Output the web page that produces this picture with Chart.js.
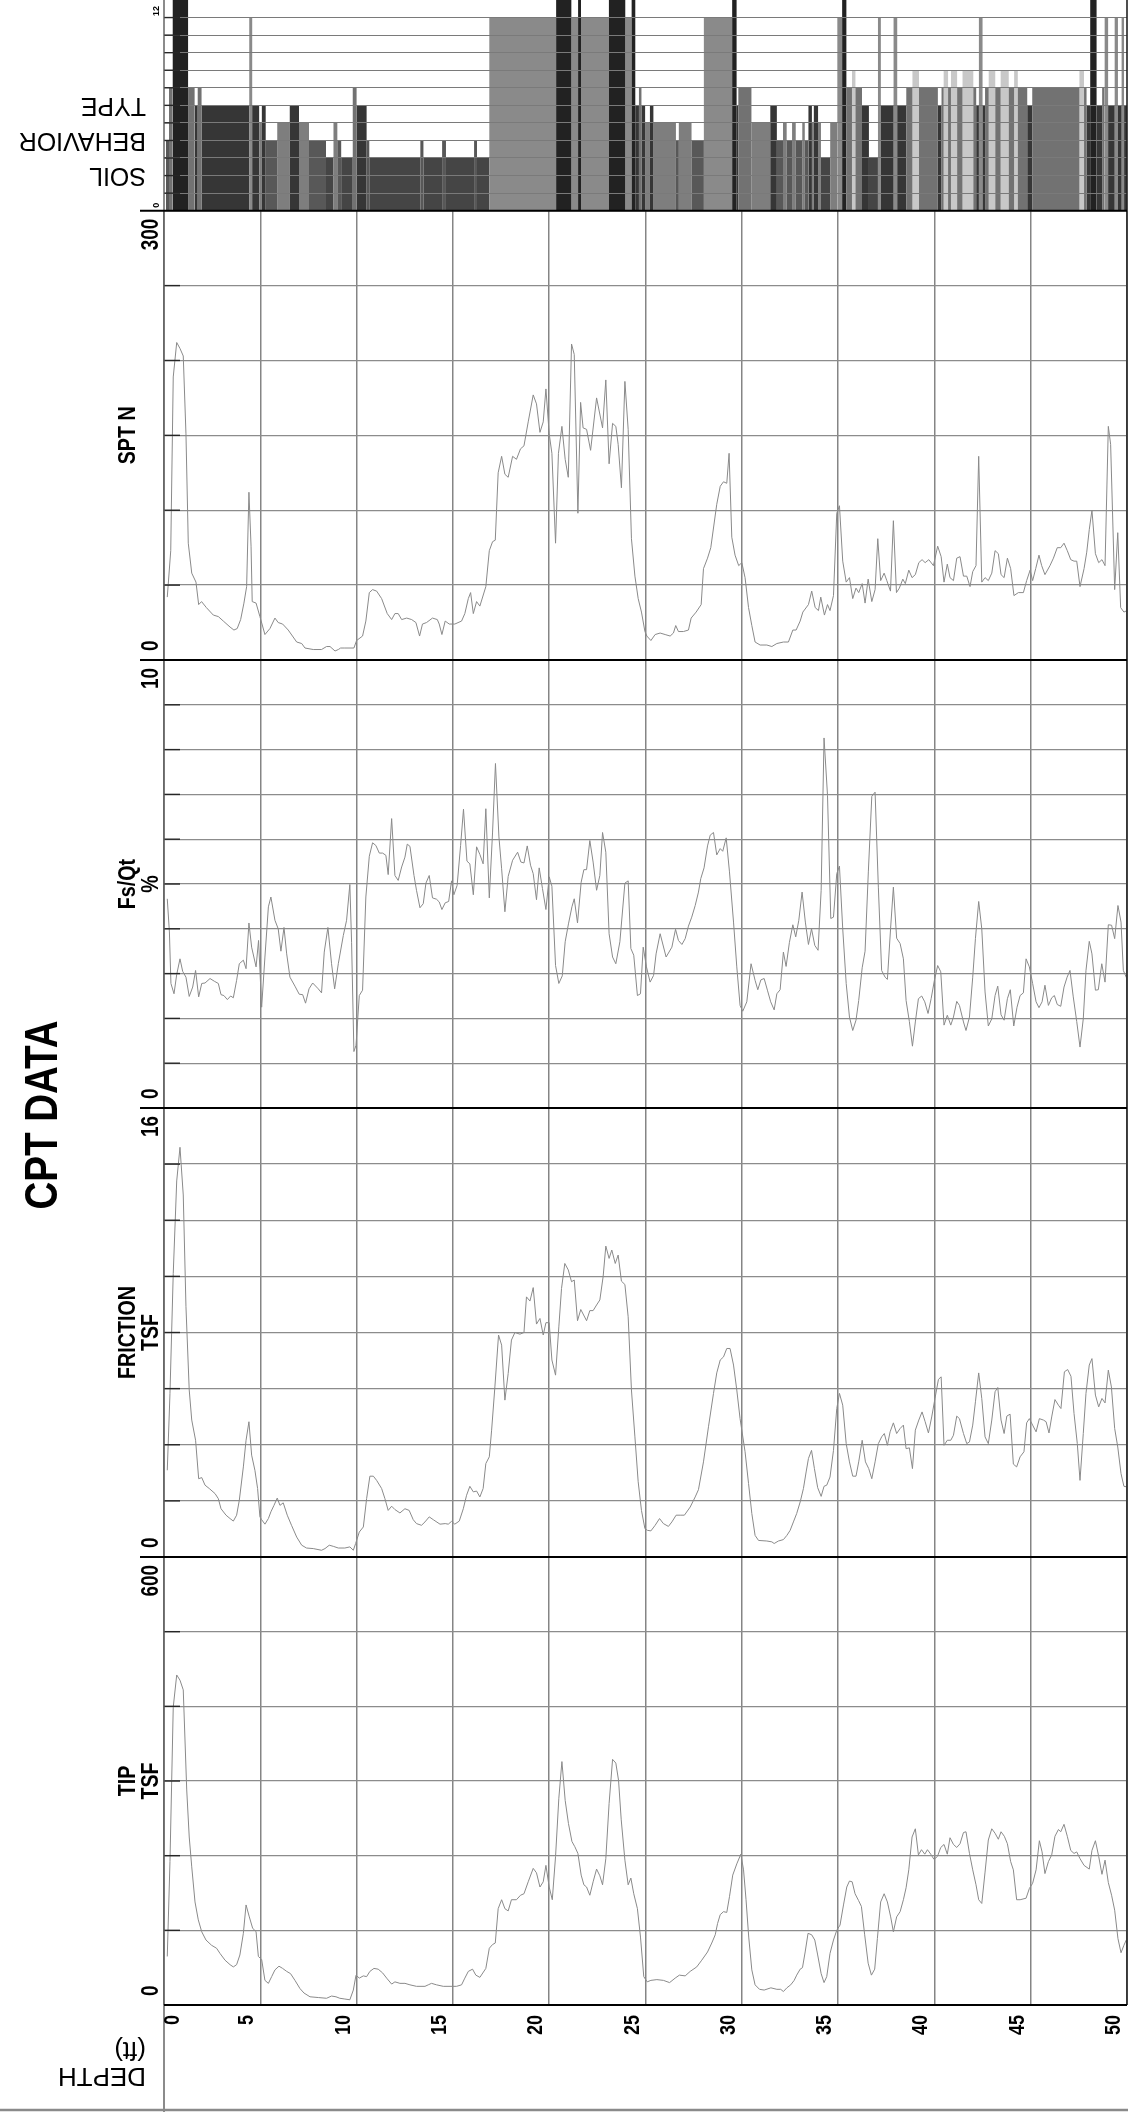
<!DOCTYPE html>
<html>
<head>
<meta charset="utf-8">
<title>CPT DATA</title>
<script src="https://cdn.jsdelivr.net/npm/chart.js@4.4.1/dist/chart.umd.min.js"></script>
<style>
html,body{margin:0;padding:0;background:#fff}
canvas{display:block}
</style>
</head>
<body>
<canvas id="cpt" width="1128" height="2112"></canvas>
<script>
// depth axis (ft)
const depthTicks=[0,5,10,15,20,25,30,35,40,45,50];

// soil behavior type: zone between consecutive depth edges
const sbtEdge=[0.10,0.26,0.44,1.25,1.59,1.75,1.95,4.42,4.58,4.94,5.08,5.28,5.88,6.53,7.01,7.53,8.41,8.80,9.00,9.20,9.80,10.00,10.52,10.66,13.31,13.47,14.44,14.64,16.10,16.25,16.89,20.36,21.15,21.50,21.65,23.10,23.95,24.28,24.47,24.66,24.79,24.98,25.23,25.41,26.58,26.73,27.39,28.03,29.50,29.73,29.82,30.50,31.48,31.82,32.14,32.33,32.61,32.80,33.14,33.27,33.46,33.64,33.74,33.96,34.11,34.59,34.96,35.21,35.43,35.72,35.90,36.24,36.60,37.07,37.22,37.88,38.07,38.54,38.86,39.20,40.18,40.37,40.48,40.71,40.86,41.18,41.46,42.02,42.17,42.31,42.50,42.63,42.82,43.16,43.44,43.86,44.14,44.33,44.82,45.08,47.53,47.77,47.90,48.09,48.43,48.71,48.84,49.02,49.36,49.53,49.72,49.85,50.00];
const sbtZone=[4,7,12,7,6,7,6,11,6,5,6,4,5,6,5,4,3,5,4,3,7,6,4,3,4,3,4,3,4,3,11,12,11,12,11,12,11,12,6,7,6,5,6,5,4,5,4,11,12,6,7,5,6,4,5,4,5,4,5,4,6,5,6,5,3,5,11,12,7,8,7,6,3,11,6,11,6,7,8,7,6,7,8,7,8,7,8,7,6,11,6,7,8,7,8,7,8,7,6,7,8,7,6,12,6,7,11,6,11,6,11,6];

// SPT N
const sptDepth=[0.17,0.35,0.48,0.66,0.83,1.0,1.14,1.26,1.44,1.66,1.8,1.95,2.2,2.56,2.82,3.08,3.43,3.63,3.8,3.98,4.15,4.29,4.41,4.52,4.58,4.78,4.98,5.24,5.5,5.76,5.93,6.16,6.45,6.89,7.15,7.32,7.75,8.18,8.44,8.62,8.88,9.05,9.17,9.39,9.86,10.0,10.31,10.48,10.66,10.83,11.04,11.3,11.59,11.82,11.99,12.16,12.34,12.6,12.86,13.08,13.27,13.42,13.63,13.94,14.19,14.29,14.43,14.6,14.81,15.1,15.45,15.62,15.8,15.92,16.06,16.23,16.4,16.71,16.89,17.06,17.2,17.35,17.53,17.7,17.87,18.1,18.3,18.51,18.69,18.91,19.17,19.34,19.52,19.69,19.83,20.0,20.14,20.33,20.48,20.66,20.83,20.99,21.16,21.3,21.49,21.63,21.76,21.94,22.15,22.46,22.77,22.94,23.11,23.29,23.46,23.58,23.75,23.93,24.1,24.27,24.45,24.62,24.79,24.97,25.07,25.28,25.5,25.76,26.02,26.28,26.45,26.57,26.71,26.97,27.23,27.37,27.63,27.89,28.01,28.22,28.39,28.7,28.88,29.05,29.22,29.34,29.48,29.65,29.84,30.0,30.17,30.35,30.52,30.69,30.95,31.3,31.56,31.82,32.16,32.42,32.65,32.82,33.03,33.17,33.46,33.63,33.81,33.98,34.1,34.29,34.45,34.58,34.76,34.93,35.07,35.24,35.42,35.59,35.76,35.93,36.07,36.25,36.4,36.56,36.75,36.92,37.06,37.21,37.39,37.53,37.72,37.87,38.03,38.18,38.36,38.49,38.67,38.84,39.01,39.19,39.36,39.52,39.71,39.95,40.17,40.35,40.5,40.67,40.81,40.99,41.16,41.33,41.51,41.68,41.85,41.99,42.16,42.3,42.46,42.63,42.8,42.98,43.15,43.32,43.46,43.62,43.79,43.96,44.13,44.36,44.62,44.79,44.97,45.1,45.26,45.43,45.57,45.74,46.0,46.18,46.38,46.56,46.73,46.9,47.08,47.25,47.39,47.56,47.77,47.91,48.04,48.18,48.36,48.53,48.7,48.86,49.03,49.15,49.36,49.52,49.67,49.84,50.0];
const sptN=[42,73,189,212,208,203,151,78,58,52,37,39,35,30,29,26,22,20,21,27,38,49,112,76,39,38,29,17,21,28,25,24,20,12,11,8,7,7,9,9,6,7,8,8,8,13,16,26,45,47,46,41,31,27,31,31,27,28,27,25,16,24,25,28,27,24,17,26,24,24,26,31,41,45,31,39,36,49,73,79,80,125,136,124,122,136,134,141,143,159,177,171,152,159,181,151,138,78,138,156,134,122,211,204,98,172,155,154,140,175,155,187,131,158,156,144,115,186,154,81,56,41,32,19,16,13,17,18,17,16,18,23,19,19,20,28,32,37,61,68,75,104,116,119,118,138,82,70,63,65,55,35,23,12,10,10,9,11,12,12,20,20,26,32,37,46,35,33,42,30,37,33,43,98,103,66,52,55,41,48,45,51,38,54,39,47,81,53,58,53,46,93,45,48,54,51,60,55,57,65,67,65,67,63,76,69,52,64,55,53,68,69,56,56,49,59,63,136,52,55,53,58,73,71,57,55,68,61,43,45,45,53,60,53,61,70,63,57,63,68,75,75,78,73,67,66,66,49,61,72,87,100,71,65,67,63,156,144,47,85,35,32,33];

// Fs/Qt %
const fsDepth=[0.17,0.28,0.36,0.52,0.66,0.83,0.97,1.14,1.31,1.49,1.64,1.8,1.96,2.13,2.39,2.61,2.82,2.96,3.11,3.29,3.46,3.6,3.77,3.91,4.12,4.26,4.41,4.55,4.78,4.91,5.07,5.24,5.42,5.55,5.76,5.93,6.07,6.23,6.37,6.54,6.8,7.02,7.2,7.35,7.53,7.72,8.01,8.18,8.32,8.51,8.7,8.86,9.05,9.31,9.48,9.65,9.74,9.86,9.97,10.14,10.31,10.48,10.66,10.83,11.0,11.18,11.35,11.52,11.64,11.82,11.99,12.16,12.34,12.51,12.63,12.77,12.98,13.11,13.29,13.46,13.6,13.77,13.94,14.15,14.29,14.43,14.6,14.78,14.93,15.05,15.22,15.4,15.55,15.73,15.88,16.06,16.23,16.4,16.57,16.71,16.89,17.06,17.21,17.39,17.53,17.7,17.87,18.1,18.36,18.53,18.69,18.86,19.03,19.17,19.34,19.48,19.65,19.83,20.0,20.14,20.33,20.5,20.68,20.83,21.0,21.18,21.3,21.47,21.66,21.8,21.94,22.11,22.28,22.46,22.63,22.77,22.94,23.11,23.29,23.46,23.67,23.93,24.1,24.24,24.39,24.58,24.74,24.88,25.05,25.24,25.42,25.55,25.76,26.07,26.37,26.56,26.71,26.89,27.06,27.23,27.4,27.58,27.75,27.87,28.04,28.22,28.36,28.53,28.7,28.88,29.01,29.19,29.36,29.57,29.74,29.91,30.05,30.26,30.48,30.69,30.83,30.99,31.16,31.33,31.5,31.68,31.82,31.99,32.16,32.3,32.47,32.65,32.8,32.96,33.13,33.3,33.46,33.62,33.79,33.96,34.12,34.27,34.45,34.62,34.76,34.93,35.07,35.24,35.42,35.59,35.76,35.93,36.07,36.25,36.4,36.57,36.75,36.92,37.09,37.26,37.44,37.56,37.73,37.87,38.04,38.22,38.39,38.53,38.7,38.86,39.01,39.17,39.34,39.5,39.67,39.83,40.0,40.17,40.33,40.5,40.67,40.85,40.99,41.16,41.3,41.51,41.64,41.82,41.99,42.13,42.3,42.46,42.63,42.8,42.98,43.15,43.29,43.46,43.62,43.79,43.94,44.12,44.29,44.45,44.62,44.76,44.93,45.1,45.28,45.43,45.59,45.74,45.92,46.09,46.23,46.38,46.56,46.73,46.89,47.04,47.21,47.39,47.56,47.73,47.87,48.04,48.18,48.36,48.51,48.69,48.86,49.03,49.2,49.36,49.53,49.69,49.81,49.98];
const fsQt=[4.67,3.93,2.78,2.55,2.98,3.33,3.05,2.92,2.49,2.70,3.07,2.48,2.78,2.79,2.89,2.83,2.78,2.53,2.51,2.42,2.5,2.46,2.85,3.22,3.3,3.11,4.13,3.59,3.15,3.74,2.25,3.37,4.49,4.71,4.19,4.0,3.5,4.03,3.44,2.92,2.72,2.54,2.53,2.34,2.66,2.79,2.66,2.57,3.48,4.03,3.22,2.66,3.22,3.85,4.19,4.99,3.7,1.26,1.4,2.51,2.63,4.71,5.62,5.92,5.86,5.69,5.69,5.64,5.21,6.46,5.19,5.08,5.38,5.6,5.89,5.84,5.19,4.86,4.47,4.56,5.02,5.19,4.69,4.66,4.6,4.43,4.58,4.61,5.07,4.76,4.97,5.86,6.67,5.51,5.45,4.76,5.83,5.66,5.45,6.68,4.69,6.16,7.69,6.05,5.34,4.38,5.17,5.53,5.71,5.49,5.47,5.85,5.42,5.23,4.65,5.36,4.9,4.43,5.16,4.95,3.18,2.78,2.95,3.71,4.11,4.49,4.67,4.13,5.04,5.32,5.32,5.97,5.49,4.86,5.19,6.15,5.71,3.89,3.37,3.22,3.71,5.02,5.07,3.56,3.41,2.51,2.55,3.59,3.15,2.81,2.96,3.44,3.89,3.37,3.59,3.99,3.74,3.65,3.78,4.06,4.26,4.52,4.82,5.12,5.36,5.85,6.09,6.15,5.65,5.79,5.73,6.03,5.27,4.15,3.15,2.29,2.16,2.37,3.22,2.85,2.64,2.86,2.89,2.63,2.37,2.19,2.55,2.64,3.48,3.16,3.69,4.09,3.82,4.19,4.82,4.15,3.65,4.0,3.63,3.52,4.86,8.26,6.98,4.23,4.26,5.23,5.4,4.0,2.78,2.03,1.73,1.96,2.4,3.13,3.5,5.27,6.96,7.05,4.93,3.07,2.92,2.87,4.04,4.93,3.79,3.67,3.33,2.4,1.93,1.38,1.92,2.44,2.5,2.37,2.11,2.44,2.85,3.18,3.04,1.85,2.07,1.85,2.03,2.38,2.29,1.92,1.73,2.03,2.92,3.78,4.61,4.0,2.59,1.83,1.99,2.51,2.72,2.08,1.96,2.44,2.64,1.83,2.25,2.51,2.57,3.33,3.15,2.78,2.37,2.24,2.37,2.74,2.29,2.46,2.51,2.31,2.27,2.7,2.92,3.07,2.48,1.93,1.36,1.99,3.07,3.72,3.44,2.63,2.64,3.22,2.81,4.09,4.08,3.78,4.52,4.15,3.07,2.9];

// friction TSF
const frDepth=[0.17,0.31,0.48,0.66,0.83,1.0,1.14,1.31,1.44,1.64,1.8,1.96,2.13,2.35,2.65,2.82,2.96,3.22,3.43,3.6,3.77,3.91,4.12,4.26,4.41,4.55,4.72,4.86,4.98,5.07,5.24,5.42,5.55,5.71,5.88,6.02,6.19,6.4,6.62,6.89,7.15,7.4,7.75,8.18,8.36,8.58,8.79,9.05,9.39,9.65,9.83,9.95,10.14,10.35,10.52,10.69,10.87,11.04,11.3,11.47,11.64,11.82,11.99,12.25,12.51,12.73,12.94,13.11,13.37,13.55,13.77,13.98,14.33,14.6,14.76,14.93,15.1,15.33,15.54,15.71,15.88,16.06,16.23,16.4,16.57,16.71,16.89,17.01,17.18,17.37,17.53,17.7,17.87,18.04,18.22,18.48,18.69,18.82,19.0,19.17,19.34,19.52,19.69,19.83,20.0,20.14,20.33,20.5,20.64,20.81,20.99,21.16,21.3,21.47,21.64,21.94,22.11,22.28,22.46,22.63,22.8,22.94,23.11,23.25,23.43,23.58,23.75,23.93,24.1,24.27,24.45,24.62,24.79,24.97,25.1,25.28,25.5,25.73,25.93,26.19,26.37,26.59,26.8,27.02,27.32,27.58,27.75,28.01,28.27,28.53,28.7,28.88,29.05,29.22,29.39,29.57,29.74,29.91,30.17,30.35,30.52,30.69,30.87,31.3,31.56,31.68,31.9,32.16,32.34,32.51,32.68,32.85,33.03,33.2,33.34,33.46,33.62,33.77,33.94,34.12,34.27,34.41,34.58,34.76,34.93,35.07,35.24,35.42,35.59,35.76,35.93,36.07,36.25,36.42,36.59,36.75,36.92,37.09,37.26,37.4,37.56,37.7,37.87,38.04,38.22,38.39,38.53,38.7,38.86,39.01,39.19,39.36,39.52,39.69,39.86,40.03,40.21,40.35,40.5,40.67,40.85,40.99,41.16,41.3,41.51,41.68,41.82,41.99,42.13,42.3,42.46,42.63,42.8,42.98,43.15,43.29,43.46,43.62,43.76,43.93,44.1,44.27,44.45,44.65,44.79,44.93,45.1,45.28,45.45,45.66,45.8,45.95,46.09,46.26,46.44,46.57,46.75,46.92,47.09,47.25,47.42,47.56,47.73,47.87,48.04,48.18,48.36,48.53,48.7,48.86,49.03,49.19,49.36,49.52,49.69,49.84,49.98];
const frTsf=[3.09,5.83,10.1,13.4,14.6,12.9,8.92,5.95,4.88,4.16,2.79,2.83,2.56,2.44,2.26,2.08,1.72,1.49,1.37,1.28,1.49,2.02,3.21,4.16,4.82,3.63,3.09,2.44,1.43,1.33,1.17,1.37,1.61,1.84,2.1,1.84,1.93,1.49,1.13,0.71,0.42,0.32,0.3,0.24,0.3,0.42,0.38,0.32,0.32,0.36,0.24,0.48,0.89,1.07,2.08,2.88,2.88,2.73,2.44,2.08,1.66,1.81,1.69,1.57,1.72,1.66,1.33,1.19,1.13,1.25,1.43,1.33,1.17,1.19,1.17,1.27,1.17,1.28,1.72,2.2,2.52,2.32,2.35,2.14,2.44,3.33,3.57,4.52,6.06,7.91,7.55,5.59,6.54,7.73,8.0,7.94,8.0,9.27,9.12,9.6,8.3,8.5,7.91,8.35,8.35,7.02,6.48,8.2,9.57,10.46,10.23,9.81,9.87,8.42,8.82,8.42,8.78,8.78,8.98,9.16,9.99,11.08,10.64,10.94,10.46,10.76,9.83,9.71,8.56,5.95,4.28,2.68,1.66,1.01,0.95,0.93,1.13,1.37,1.19,1.09,1.25,1.49,1.49,1.49,1.78,2.14,2.4,3.39,4.64,5.83,6.56,7.02,7.13,7.43,7.43,6.84,5.95,4.93,3.75,2.62,1.55,0.77,0.59,0.57,0.54,0.48,0.57,0.62,0.77,0.95,1.25,1.55,1.96,2.44,3.03,3.51,3.8,3.15,2.47,2.16,2.52,2.56,2.85,3.8,5.29,5.83,5.41,4.04,3.39,2.88,2.88,3.39,4.16,3.39,3.15,2.79,3.39,4.04,4.28,4.4,3.98,4.46,4.78,4.4,4.58,4.7,3.86,3.89,3.15,4.52,4.88,5.17,4.82,4.42,4.99,5.65,6.33,6.42,3.98,4.16,4.16,4.34,5.02,4.93,4.4,4.04,4.1,4.7,5.53,6.56,5.65,4.28,4.04,4.88,5.89,6.04,4.88,4.4,5.02,5.09,3.31,3.21,3.57,3.75,4.78,4.93,4.7,4.46,4.93,4.88,4.82,4.42,4.99,5.61,5.41,5.29,6.6,6.68,6.44,5.11,4.04,2.73,4.4,5.83,6.84,7.07,5.77,5.35,5.65,5.49,6.66,6.06,4.58,3.92,2.97,2.52,2.5];

// tip TSF
const tipDepth=[0.17,0.31,0.48,0.66,0.83,1.0,1.18,1.31,1.44,1.61,1.78,1.96,2.18,2.47,2.73,2.91,3.17,3.43,3.6,3.77,3.94,4.12,4.26,4.43,4.6,4.78,4.9,5.07,5.24,5.42,5.59,5.76,5.97,6.16,6.37,6.57,6.8,7.06,7.27,7.58,8.01,8.44,8.7,8.93,9.13,9.39,9.65,9.83,9.97,10.14,10.35,10.52,10.69,10.9,11.12,11.35,11.56,11.82,11.99,12.25,12.51,12.77,13.11,13.55,13.72,13.89,14.15,14.5,14.85,15.19,15.45,15.62,15.8,16.02,16.19,16.4,16.71,16.89,17.06,17.2,17.35,17.53,17.7,17.87,18.04,18.3,18.51,18.69,18.91,19.17,19.34,19.52,19.69,19.83,20.0,20.16,20.33,20.5,20.66,20.83,21.0,21.18,21.33,21.49,21.66,21.8,21.94,22.11,22.28,22.46,22.63,22.77,22.94,23.11,23.29,23.46,23.6,23.74,23.93,24.1,24.24,24.39,24.58,24.74,24.91,25.09,25.28,25.59,25.93,26.25,26.54,26.76,27.06,27.32,27.66,27.92,28.22,28.44,28.62,28.74,28.88,29.05,29.22,29.36,29.53,29.74,29.95,30.09,30.22,30.36,30.52,30.69,30.92,31.16,31.51,31.82,32.02,32.16,32.34,32.54,32.72,32.85,33.03,33.15,33.29,33.44,33.63,33.79,33.94,34.12,34.27,34.41,34.58,34.76,34.93,35.1,35.28,35.45,35.59,35.73,35.88,36.06,36.21,36.38,36.56,36.73,36.9,37.04,37.21,37.39,37.56,37.73,37.87,38.04,38.22,38.39,38.53,38.67,38.84,39.01,39.17,39.33,39.5,39.64,39.81,39.98,40.16,40.33,40.5,40.67,40.81,40.99,41.16,41.33,41.51,41.64,41.82,41.99,42.16,42.3,42.46,42.63,42.8,42.98,43.15,43.32,43.46,43.63,43.79,43.96,44.1,44.27,44.45,44.76,44.93,45.1,45.28,45.45,45.59,45.74,45.92,46.09,46.26,46.44,46.56,46.73,46.9,47.08,47.25,47.39,47.56,47.77,48.04,48.18,48.36,48.53,48.7,48.86,49.03,49.2,49.36,49.53,49.69,49.84,49.98];
const tipTsf=[65,192,399,442,435,422,288,225,185,138,114,98,87,80,76,69,60,54,51,54,67,96,134,118,103,98,65,61,33,29,38,47,52,49,45,42,33,22,16,11,10,9,12,11,9,8,7,20,40,36,39,38,45,49,48,43,36,28,31,29,29,27,25,25,27,29,27,25,25,25,27,36,45,48,40,37,49,76,81,83,129,141,129,126,141,141,147,149,165,183,177,158,165,187,158,141,199,277,326,274,243,219,212,203,174,161,158,147,165,182,173,161,196,270,329,324,301,248,194,161,170,149,129,91,38,31,33,34,33,30,36,40,39,45,51,60,71,83,94,109,121,125,124,145,174,189,202,181,141,91,47,27,21,20,23,21,21,18,23,27,33,40,48,50,71,96,94,87,67,42,30,38,69,87,100,107,134,158,166,165,149,140,132,94,56,40,48,89,138,149,138,118,98,118,125,141,157,181,225,236,201,208,202,208,202,195,199,211,215,202,224,215,211,216,231,232,203,181,161,141,136,178,221,236,230,222,232,226,216,192,181,141,141,143,156,163,181,220,205,176,192,201,226,235,232,242,226,207,203,205,196,187,182,207,220,199,175,194,164,147,127,89,70,80,88];

// panels, top to bottom below the soil strip
const panelKeys=['ySpt','yFs','yFr','yTip'];
const panelNames=[['SPT N'],['Fs/Qt','%'],['FRICTION','TSF'],['TIP','TSF']];
const panelMax=[300,10,16,600];
const panelStep=[50,1,2,100];

const zoneShade={3:'#454545',4:'#585858',5:'#7e7e7e',6:'#363636',7:'#727272',8:'#c8c8c8',11:'#8a8a8a',12:'#222222'};
const traceColor='#8a8a8a';

function pairs(xs,ys){ return xs.map((x,i)=>({x:x,y:ys[i]})); }

function trace(xs,ys,axis){
  return {data:pairs(xs,ys),yAxisID:axis,xAxisID:'x',borderColor:traceColor,borderWidth:1,pointRadius:0,tension:0,fill:false};
}

// one filled outline per zone, each interval drawn as a rectangle from zero
const zoneSets=[...new Set(sbtZone)].map(z=>{
  const pts=[];
  sbtZone.forEach((v,i)=>{
    if(v!==z) return;
    pts.push({x:sbtEdge[i],y:0},{x:sbtEdge[i],y:v},{x:sbtEdge[i+1],y:v},{x:sbtEdge[i+1],y:0});
  });
  return {data:pts,yAxisID:'ySbt',xAxisID:'x',fill:'origin',backgroundColor:zoneShade[z],borderColor:'rgba(0,0,0,0)',borderWidth:0,pointRadius:0,tension:0};
});

function logAxis(max,step,weight,gridZ){
  return {type:'linear',position:'left',stack:'log',stackWeight:weight,min:0,max:max,
    ticks:{display:false,stepSize:step,maxTicksLimit:50},
    grid:{color:gridZ?'#7a7a7a':'#8c8c8c',lineWidth:gridZ?1.1:1.3,drawTicks:false,z:gridZ||0},
    border:{display:false},
    afterFit:s=>{ s.width=0; }};
}

// is a condensed face installed? otherwise squeeze the regular one
function hasFace(face){
  const c=document.createElement('canvas').getContext('2d');
  c.font='40px monospace'; const a=c.measureText('CPT DATA wil').width;
  c.font='40px "'+face+'", monospace'; const b=c.measureText('CPT DATA wil').width;
  return a!==b;
}
const narrowOk=hasFace('Liberation Sans Narrow');

function label(ctx,text,x,y,o){
  ctx.save();
  ctx.translate(x,y);
  ctx.rotate(o.angle||0);
  let face='"Liberation Sans", Arial, sans-serif';
  if(o.narrow){ if(narrowOk) face='"Liberation Sans Narrow", '+face; else ctx.scale(0.82,1); }
  ctx.font=(o.bold?'bold ':'')+o.size+'px '+face;
  ctx.fillStyle='#000';
  ctx.textAlign=o.align||'center';
  ctx.textBaseline='middle';
  ctx.fillText(text,0,0);
  ctx.restore();
}

function line(ctx,x1,y1,x2,y2,color,w){
  ctx.beginPath(); ctx.moveTo(x1,y1); ctx.lineTo(x2,y2);
  ctx.strokeStyle=color; ctx.lineWidth=w; ctx.stroke();
}

const UP=-Math.PI/2;

// hide the depth grid behind the soil strip
const soilBackdrop={
  id:'soilBackdrop',
  beforeDatasetsDraw(chart){
    const s=chart.scales.ySbt, a=chart.chartArea, ctx=chart.ctx;
    ctx.save(); ctx.fillStyle='#fff';
    ctx.fillRect(a.left-1,s.top-1,a.right-a.left+2,s.bottom-s.top+1);
    ctx.restore();
  }
};

const logFrame={
  id:'logFrame',
  afterDraw(chart){
    const ctx=chart.ctx, a=chart.chartArea, x=chart.scales.x;
    const W=chart.width, H=chart.height;
    ctx.save();
    // inner tick marks on every panel
    ['ySbt'].concat(panelKeys).forEach(k=>{
      const s=chart.scales[k];
      s.ticks.forEach(t=>{
        if(t.value<=s.min||t.value>=s.max) return;
        const py=s.getPixelForValue(t.value);
        line(ctx,a.left,py,a.left+16,py,'#262626',1.4);
      });
    });
    // outer frame
    line(ctx,a.left,0,a.left,H,'#5a5a5a',1.4);
    line(ctx,a.right,0,a.right,a.bottom,'#222',1.6);
    line(ctx,0,H-2,W,H-2,'#8a8a8a',2.5);
    panelKeys.forEach(k=>{
      const s=chart.scales[k];
      line(ctx,140,s.top,a.right,s.top,'#000',2);
    });
    line(ctx,a.left,a.bottom,a.right,a.bottom,'#000',2);

    // soil strip captions
    const sb=chart.scales.ySbt;
    label(ctx,'12',157,sb.top+6,{size:9,bold:true,angle:UP,align:'right'});
    label(ctx,'0',157,sb.bottom-3,{size:9,bold:true,angle:UP,align:'left'});
    ['TYPE','BEHAVIOR','SOIL'].forEach((t,i)=>{
      label(ctx,t,146,105+i*35,{size:25,angle:Math.PI,align:'left'});
    });

    // panel captions and range labels
    panelKeys.forEach((k,i)=>{
      const s=chart.scales[k], mid=(s.top+s.bottom)/2;
      const names=panelNames[i];
      names.forEach((n,j)=>{
        label(ctx,n,128+j*23,mid,{size:24,bold:true,narrow:true,angle:UP});
      });
      label(ctx,String(panelMax[i]),152,s.top+8,{size:23,bold:true,narrow:true,angle:UP,align:'right'});
      label(ctx,'0',152,s.bottom-9,{size:23,bold:true,narrow:true,angle:UP,align:'left'});
    });

    label(ctx,'CPT DATA',44,1115,{size:47,bold:true,narrow:true,angle:UP});

    // depth labels
    depthTicks.forEach(d=>{
      const px=x.getPixelForValue(d)+(d===0?8.6:-13);
      label(ctx,String(d),px,a.bottom+10,{size:22,bold:true,narrow:true,angle:UP,align:'right'});
    });
    label(ctx,'(ft)',146,a.bottom+44,{size:26,angle:Math.PI,align:'left'});
    label(ctx,'DEPTH',146,a.bottom+70,{size:26,angle:Math.PI,align:'left'});
    ctx.restore();
  }
};

const scales={};
// stacked left axes are laid out with the last one on top
scales.yTip=logAxis(600,100,448);
scales.yFr=logAxis(16,2,449);
scales.yFs=logAxis(10,1,448);
scales.ySpt=logAxis(300,50,449.3);
scales.ySbt=logAxis(12,1,210.7,1);
scales.x={type:'linear',position:'bottom',min:0,max:50,
  ticks:{display:false,stepSize:5},
  grid:{color:'#858585',lineWidth:1.5,drawTicks:false},
  border:{display:false},
  afterFit:s=>{ s.height=0; }};

new Chart(document.getElementById('cpt'),{
  type:'line',
  data:{datasets:[
    trace(sptDepth,sptN,'ySpt'),
    trace(fsDepth,fsQt,'yFs'),
    trace(frDepth,frTsf,'yFr'),
    trace(tipDepth,tipTsf,'yTip')
  ].concat(zoneSets)},
  options:{
    responsive:false,
    animation:false,
    devicePixelRatio:1,
    events:[],
    layout:{padding:{left:164,right:1,top:0,bottom:107}},
    plugins:{legend:{display:false},tooltip:{enabled:false}},
    scales:scales
  },
  plugins:[soilBackdrop,logFrame]
});
</script>
</body>
</html>
